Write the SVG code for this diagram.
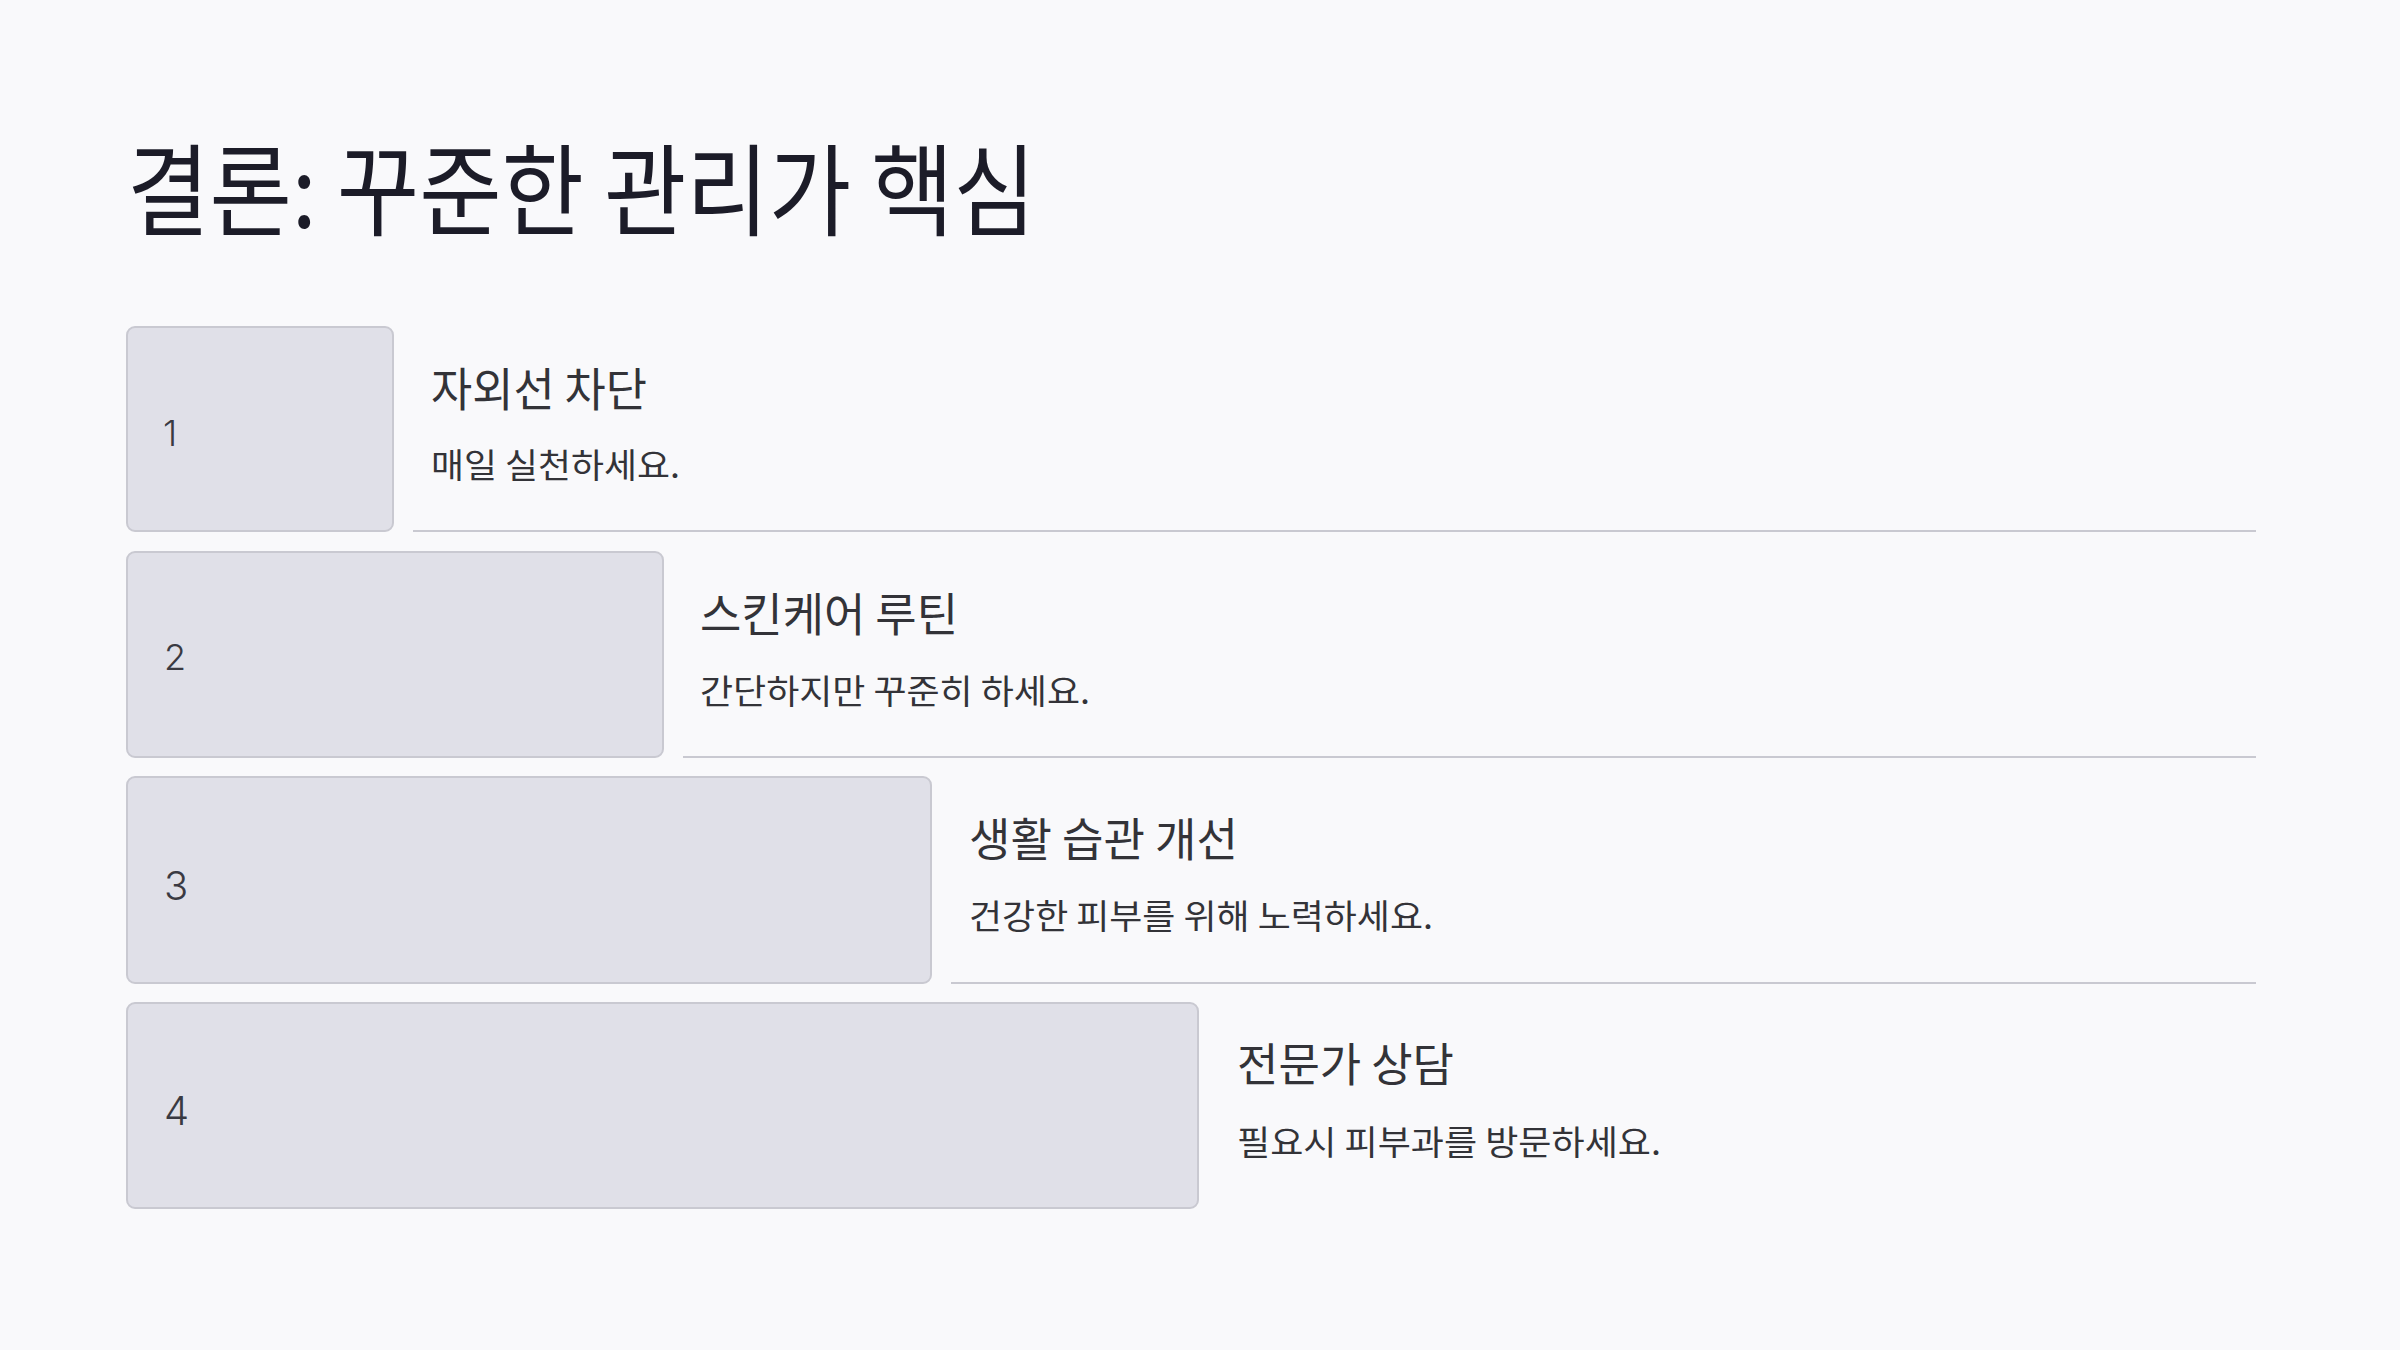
<svg xmlns="http://www.w3.org/2000/svg" width="2400" height="1350" viewBox="0 0 2400 1350">
<style>
.bg{fill:#f9f9fb}
.box{fill:#e0e0e8;stroke:#c9c9d1;stroke-width:2}
.line{stroke:#c9c9d1;stroke-width:2}
.title{font-family:"Noto Sans CJK KR","Noto Sans",sans-serif;font-size:100px;fill:#1c1c28}
.head{font-family:"Noto Sans CJK KR","Noto Sans",sans-serif;font-size:46px;fill:#333338}
.desc{font-family:"Noto Sans CJK KR","Noto Sans",sans-serif;font-size:34px;fill:#333338}
.num{font-family:Inter,"Liberation Sans",sans-serif;font-weight:300;fill:#3a3a42}
</style>
<rect class="bg" x="0" y="0" width="2400" height="1350"/>
<text class="title" x="127" y="228" textLength="909" lengthAdjust="spacingAndGlyphs">결론: 꾸준한 관리가 핵심</text>
<g id="connectors">
<line class="line" x1="413" y1="531" x2="2256" y2="531"/>
<line class="line" x1="683" y1="757" x2="2256" y2="757"/>
<line class="line" x1="951" y1="983" x2="2256" y2="983"/>
</g>
<g id="step1">
<rect class="box" x="127" y="327" width="266" height="204" rx="8"/>
<text class="num" x="163" y="446" font-size="36">1</text>
<text class="head" x="431" y="406" textLength="216" lengthAdjust="spacingAndGlyphs">자외선 차단</text>
<text class="desc" x="431" y="478" textLength="249" lengthAdjust="spacingAndGlyphs">매일 실천하세요.</text>
</g>
<g id="step2">
<rect class="box" x="127" y="552" width="536" height="205" rx="8"/>
<text class="num" x="164" y="670" font-size="36">2</text>
<text class="head" x="700" y="631" textLength="258" lengthAdjust="spacingAndGlyphs">스킨케어 루틴</text>
<text class="desc" x="700" y="704" textLength="390" lengthAdjust="spacingAndGlyphs">간단하지만 꾸준히 하세요.</text>
</g>
<g id="step3">
<rect class="box" x="127" y="777" width="804" height="206" rx="8"/>
<text class="num" x="164" y="900" font-size="40">3</text>
<text class="head" x="969" y="856" textLength="269" lengthAdjust="spacingAndGlyphs">생활 습관 개선</text>
<text class="desc" x="969" y="929" textLength="464" lengthAdjust="spacingAndGlyphs">건강한 피부를 위해 노력하세요.</text>
</g>
<g id="step4">
<rect class="box" x="127" y="1003" width="1071" height="205" rx="8"/>
<text class="num" x="164" y="1125" font-size="40">4</text>
<text class="head" x="1237" y="1081" textLength="217" lengthAdjust="spacingAndGlyphs">전문가 상담</text>
<text class="desc" x="1237" y="1155" textLength="424" lengthAdjust="spacingAndGlyphs">필요시 피부과를 방문하세요.</text>
</g>
</svg>
